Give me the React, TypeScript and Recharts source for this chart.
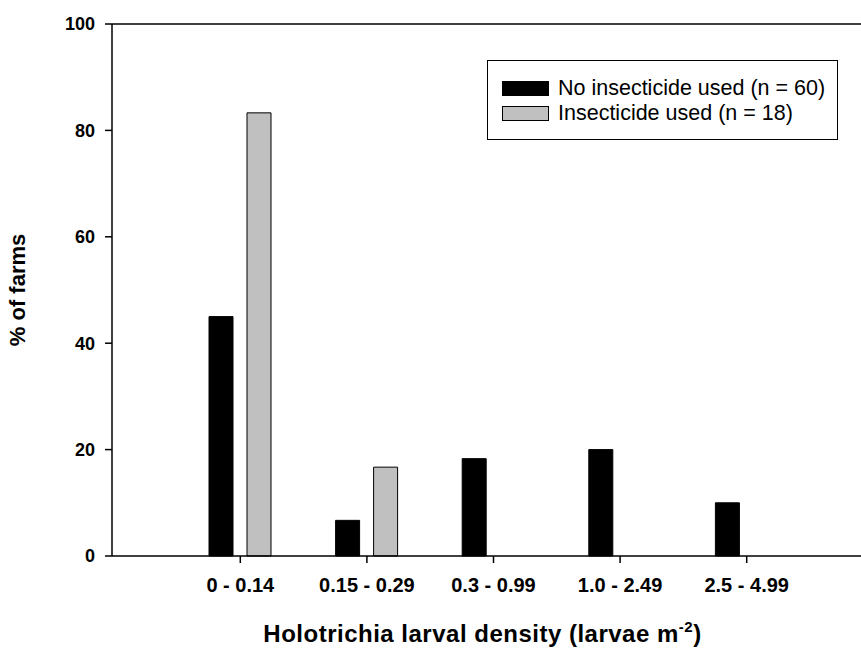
import React from 'react';
import { BarChart, Bar, XAxis, YAxis, ReferenceLine, Legend } from 'recharts';

const categories = ['0 - 0.14', '0.15 - 0.29', '0.3 - 0.99', '1.0 - 2.49', '2.5 - 4.99'];
const noInsecticide = [45, 6.7, 18.3, 20, 10];
const insecticide = [83.3, 16.7, 0, 0, 0];
const yTicks = [0, 20, 40, 60, 80, 100];

const data = categories.map((c, i) => ({
  range: c,
  none: noInsecticide[i],
  used: insecticide[i],
}));

const font = '"Liberation Sans", Arial, Helvetica, sans-serif';

const XTitle = (props: any) => {
  const { viewBox } = props;
  const cx = viewBox.x + viewBox.width / 2 - 4;
  return (
    <text x={cx} y={642} textAnchor="middle" fontFamily={font} fontWeight="bold" fontSize={24} letterSpacing={0.5} fill="#000">
      Holotrichia larval density (larvae m
      <tspan dy={-10} fontSize={15}>-2</tspan>
      <tspan dy={10}>)</tspan>
    </text>
  );
};

const LegendBox = () => (
  <div
    style={{
      width: 351,
      height: 80,
      border: '1.5px solid #000',
      boxSizing: 'border-box',
      background: '#fff',
      fontFamily: font,
      fontSize: 21.5,
      padding: '15px 0 0 14px',
    }}
  >
    {[
      { label: 'No insecticide used (n = 60)', color: '#000' },
      { label: 'Insecticide used (n = 18)', color: '#c0c0c0' },
    ].map((it) => (
      <div key={it.label} style={{ display: 'flex', alignItems: 'center', height: 25 }}>
        <span
          style={{
            display: 'inline-block',
            width: 47,
            height: 15,
            background: it.color,
            border: '1px solid #000',
            boxSizing: 'border-box',
            marginRight: 9,
          }}
        />
        <span>{it.label}</span>
      </div>
    ))}
  </div>
);

export default function App() {
  return (
    <div style={{ position: 'absolute', left: 0, top: 0, background: '#fff' }}>
      <BarChart
        width={861}
        height={648}
        data={data}
        margin={{ top: 24, right: 0, left: 50, bottom: 42 }}
        barSize={24}
        barGap={14}
      >
        <ReferenceLine y={100} stroke="#000" strokeWidth={1.5} />
        <XAxis
          dataKey="range"
          padding={{ left: 65, right: 51 }}
          height={50}
          axisLine={{ stroke: '#000', strokeWidth: 1.5 }}
          tickLine={{ stroke: '#000', strokeWidth: 1.5 }}
          tickSize={7}
          tick={{ fill: '#000', fontFamily: font, fontWeight: 'bold', fontSize: 20 }}
          tickMargin={15}
          interval={0}
          label={<XTitle />}
        />
        <YAxis
          domain={[0, 100]}
          ticks={yTicks}
          width={62}
          axisLine={{ stroke: '#000', strokeWidth: 1.5 }}
          tickLine={{ stroke: '#000', strokeWidth: 1.5 }}
          tickSize={7}
          tickMargin={10}
          tick={{ fill: '#000', fontFamily: font, fontWeight: 'bold', fontSize: 18 }}
          label={{
            value: '% of farms',
            angle: -90,
            position: 'insideLeft',
            dx: -38,
            style: { fill: '#000', fontFamily: font, fontWeight: 'bold', fontSize: 22, textAnchor: 'middle' },
          }}
        />
        <Legend
          layout="horizontal"
          verticalAlign="middle"
          align="center"
          content={<LegendBox />}
          wrapperStyle={{ left: 487, top: 60, width: 351 }}
        />
        <Bar dataKey="none" fill="#000" stroke="#000" strokeWidth={1} isAnimationActive={false} />
        <Bar dataKey="used" fill="#c0c0c0" stroke="#000" strokeWidth={1} isAnimationActive={false} />
      </BarChart>
    </div>
  );
}
